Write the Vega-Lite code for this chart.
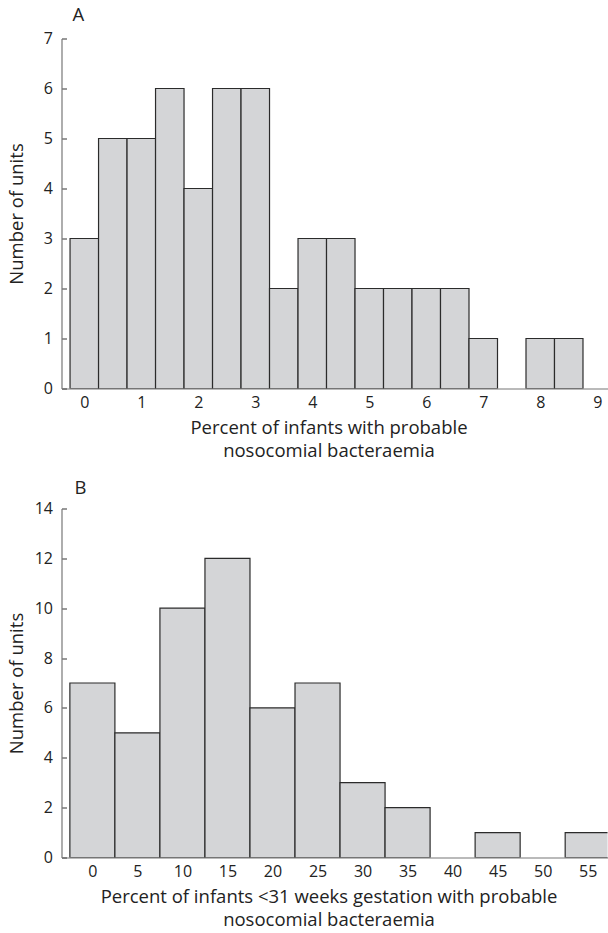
{
  "$schema": "https://vega.github.io/schema/vega-lite/v6.json",
  "padding": {"left": 7.5, "top": 5.5, "right": 0, "bottom": 0},
  "background": "white",
  "spacing": 18,
  "config": {
    "view": {"stroke": null},
    "font": "Open Sans",
    "axis": {
      "labelFont": "Open Sans",
      "titleFont": "Open Sans",
      "labelFontSize": 16,
      "titleFontSize": 18.5,
      "titleFontWeight": "normal",
      "labelColor": "#222",
      "titleColor": "#222",
      "domainColor": "#777",
      "domainWidth": 1.2,
      "tickColor": "#555",
      "tickWidth": 1.2,
      "grid": false
    },
    "axisX": {"ticks": false, "tickSize": 0, "labelPadding": 6, "titlePadding": 8, "titleLineHeight": 23, "labelFlush": false, "labelOverlap": false},
    "axisY": {"tickSize": -5, "labelPadding": 14, "titlePadding": 10, "minExtent": 25, "maxExtent": 25, "labelOverlap": false},
    "title": {"font": "Open Sans", "fontSize": 18.5, "fontWeight": "normal", "color": "#222", "anchor": "start", "frame": "group", "baseline": "alphabetic"}
  },
  "vconcat": [
    {
      "width": 546,
      "height": 350,
      "title": {"text": "A", "dx": 11, "offset": 6.5},
      "data": {"values": [
        {"start": -0.25, "end": 0.25, "count": 3},
        {"start": 0.25, "end": 0.75, "count": 5},
        {"start": 0.75, "end": 1.25, "count": 5},
        {"start": 1.25, "end": 1.75, "count": 6},
        {"start": 1.75, "end": 2.25, "count": 4},
        {"start": 2.25, "end": 2.75, "count": 6},
        {"start": 2.75, "end": 3.25, "count": 6},
        {"start": 3.25, "end": 3.75, "count": 2},
        {"start": 3.75, "end": 4.25, "count": 3},
        {"start": 4.25, "end": 4.75, "count": 3},
        {"start": 4.75, "end": 5.25, "count": 2},
        {"start": 5.25, "end": 5.75, "count": 2},
        {"start": 5.75, "end": 6.25, "count": 2},
        {"start": 6.25, "end": 6.75, "count": 2},
        {"start": 6.75, "end": 7.25, "count": 1},
        {"start": 7.75, "end": 8.25, "count": 1},
        {"start": 8.25, "end": 8.75, "count": 1}
      ]},
      "mark": {"type": "bar", "fill": "#d4d5d7", "stroke": "#2b2b2b", "strokeWidth": 1.2, "clip": true},
      "encoding": {
        "x": {"field": "start", "type": "quantitative",
              "scale": {"domain": [-0.4, 9.18], "nice": false, "zero": false},
              "axis": {"values": [0,1,2,3,4,5,6,7,8,9], "title": ["Percent of infants with probable", "nosocomial bacteraemia"], "titleX": 267, "titleAnchor": "middle"}},
        "x2": {"field": "end"},
        "y": {"field": "count", "type": "quantitative",
              "scale": {"domain": [0, 7], "nice": false},
              "axis": {"values": [0,1,2,3,4,5,6,7], "title": "Number of units"}},
        "y2": {"datum": 0}
      }
    },
    {
      "width": 546,
      "height": 349,
      "title": {"text": "B", "dx": 13, "offset": 3.5},
      "data": {"values": [
        {"start": -2.5, "end": 2.5, "count": 7},
        {"start": 2.5, "end": 7.5, "count": 5},
        {"start": 7.5, "end": 12.5, "count": 10},
        {"start": 12.5, "end": 17.5, "count": 12},
        {"start": 17.5, "end": 22.5, "count": 6},
        {"start": 22.5, "end": 27.5, "count": 7},
        {"start": 27.5, "end": 32.5, "count": 3},
        {"start": 32.5, "end": 37.5, "count": 2},
        {"start": 42.5, "end": 47.5, "count": 1},
        {"start": 52.5, "end": 57.5, "count": 1}
      ]},
      "mark": {"type": "bar", "fill": "#d4d5d7", "stroke": "#2b2b2b", "strokeWidth": 1.2, "clip": true},
      "encoding": {
        "x": {"field": "start", "type": "quantitative",
              "scale": {"domain": [-3.43, 57.2], "nice": false, "zero": false},
              "axis": {"values": [0,5,10,15,20,25,30,35,40,45,50,55], "title": ["Percent of infants <31 weeks gestation with probable", "nosocomial bacteraemia"], "titleX": 267, "titleAnchor": "middle"}},
        "x2": {"field": "end"},
        "y": {"field": "count", "type": "quantitative",
              "scale": {"domain": [0, 14], "nice": false},
              "axis": {"values": [0,2,4,6,8,10,12,14], "title": "Number of units"}},
        "y2": {"datum": 0}
      }
    }
  ]
}
